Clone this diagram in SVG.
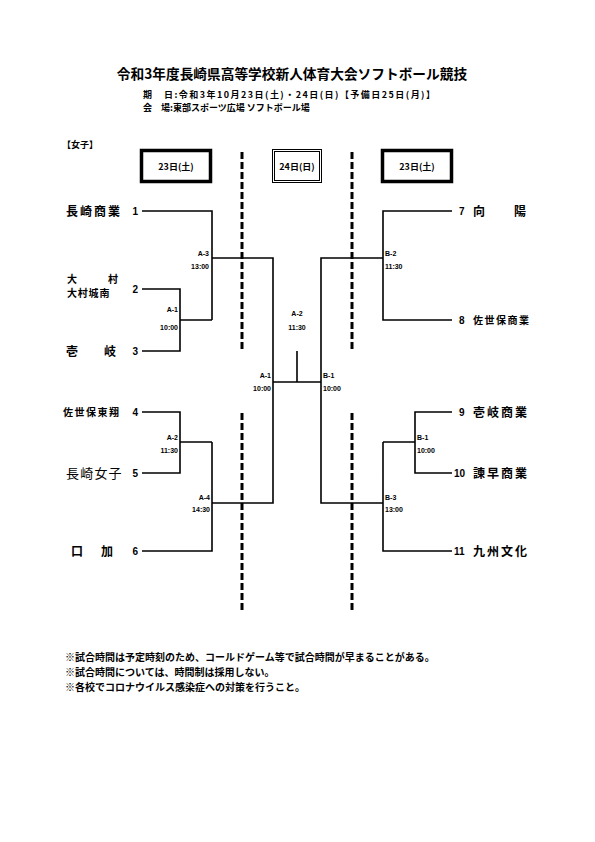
<svg xmlns="http://www.w3.org/2000/svg" width="595" height="842" viewBox="0 0 595 842">
<style>
text{font-family:"Noto Sans CJK JP","Noto Sans",sans-serif;fill:#000}
.t{font-size:13.7px;font-weight:bold}
.h{font-size:9px;font-weight:bold}
.team{font-size:12px;font-weight:bold}
.sm{font-size:10px;font-weight:bold}
.num{font-size:10px;font-weight:bold;font-family:"Liberation Sans",Arial,sans-serif}
.lb{font-size:7px;font-family:"Liberation Sans",Arial,sans-serif;font-weight:bold}
.note{font-size:10px;font-weight:bold}
.ln{stroke:#000;stroke-width:1.6;fill:none}
.dash{stroke:#000;stroke-width:3;stroke-dasharray:7 3;fill:none}
.box{fill:#fff;stroke:#000;stroke-width:3.5}
</style>
<rect width="595" height="842" fill="#fff"/>
<g id="header">
<text class="t" x="292" y="79" text-anchor="middle">令和3年度長崎県高等学校新人体育大会ソフトボール競技</text>
<text class="h" x="143" y="98" textLength="292" lengthAdjust="spacing">期　日:令和3年10月23日(土)・24日(日)【予備日25日(月)】</text>
<text class="h" x="143" y="111" font-size="8.2">会　場:東部スポーツ広場 ソフトボール場</text>
<text class="h" x="62" y="148">【女子】</text>
</g>
<g id="date-left"><rect class="box" x="141.5" y="150.5" width="69" height="31"/><text class="h" x="176" y="170" text-anchor="middle">23日(土)</text></g>
<g id="date-center"><rect x="272.5" y="149.5" width="49" height="33" fill="#fff" stroke="#000" stroke-width="1"/><rect x="274.5" y="151.5" width="45" height="29" fill="none" stroke="#000" stroke-width="1"/><text class="h" x="297" y="170" text-anchor="middle">24日(日)</text></g>
<g id="date-right"><rect class="box" x="382.5" y="150.5" width="69" height="31"/><text class="h" x="417" y="170" text-anchor="middle">23日(土)</text></g>
<g id="dividers">
<line class="dash" x1="242" y1="152" x2="242" y2="352"/>
<line class="dash" x1="352" y1="152" x2="352" y2="352"/>
<line class="dash" x1="242" y1="413" x2="242" y2="613"/>
<line class="dash" x1="352" y1="413" x2="352" y2="613"/>
</g>
<g id="connectors">
<path class="ln" d="M142 211H212V320M142 289H180V351H142M180 320H212M212 258H273V503H212M212 442V551H142M142 412H180V473H142M180 442H212"/>
<path class="ln" d="M452 211H383V320H452M383 258H321V503H383M383 442V551H452M452 412H415V473H452M415 442H383"/>
<path class="ln" d="M273 382H321M297 351V382"/>
</g>
<g id="match-labels">
<text class="lb" x="209" y="256" text-anchor="end">A-3</text><text class="lb" x="209" y="269" text-anchor="end">13:00</text>
<text class="lb" x="178" y="312" text-anchor="end">A-1</text><text class="lb" x="178" y="330" text-anchor="end">10:00</text>
<text class="lb" x="178" y="440" text-anchor="end">A-2</text><text class="lb" x="178" y="453" text-anchor="end">11:30</text>
<text class="lb" x="210" y="500" text-anchor="end">A-4</text><text class="lb" x="210" y="512" text-anchor="end">14:30</text>
<text class="lb" x="297" y="316" text-anchor="middle">A-2</text><text class="lb" x="297" y="330" text-anchor="middle">11:30</text>
<text class="lb" x="271" y="378" text-anchor="end">A-1</text><text class="lb" x="271" y="391" text-anchor="end">10:00</text>
<text class="lb" x="323" y="378">B-1</text><text class="lb" x="323" y="391">10:00</text>
<text class="lb" x="385" y="256">B-2</text><text class="lb" x="385" y="269">11:30</text>
<text class="lb" x="417" y="440">B-1</text><text class="lb" x="417" y="453">10:00</text>
<text class="lb" x="385" y="500">B-3</text><text class="lb" x="385" y="512">13:00</text>
</g>
<g id="team-1"><text class="team" x="66" y="216" letter-spacing="2">長崎商業</text><text class="num" x="138" y="215" text-anchor="end">1</text></g>
<g id="team-2"><text class="sm" x="67" y="283" font-size="9">大</text><text class="sm" x="108" y="283" font-size="9">村</text><text class="sm" x="67" y="297" font-size="9" letter-spacing="0.8">大村城南</text><text class="num" x="138" y="293" text-anchor="end">2</text></g>
<g id="team-3"><text class="team" x="66" y="356">壱</text><text class="team" x="104" y="356">岐</text><text class="num" x="138" y="355" text-anchor="end">3</text></g>
<g id="team-4"><text class="sm" x="63" y="416" letter-spacing="1.5">佐世保東翔</text><text class="num" x="138" y="416" text-anchor="end">4</text></g>
<g id="team-5"><text x="66" y="478" font-size="13" letter-spacing="1.2">長崎女子</text><text class="num" x="138" y="477" text-anchor="end">5</text></g>
<g id="team-6"><text class="team" x="71" y="556">口</text><text class="team" x="101" y="556">加</text><text class="num" x="138" y="555" text-anchor="end">6</text></g>
<g id="team-7"><text class="num" x="459" y="215">7</text><text class="team" x="473" y="216">向</text><text class="team" x="514" y="216">陽</text></g>
<g id="team-8"><text class="num" x="459" y="324">8</text><text class="sm" x="473" y="324" letter-spacing="1.5">佐世保商業</text></g>
<g id="team-9"><text class="num" x="459" y="416">9</text><text class="team" x="473" y="417" letter-spacing="2">壱岐商業</text></g>
<g id="team-10"><text class="num" x="454" y="477">10</text><text class="team" x="473" y="478" letter-spacing="2">諫早商業</text></g>
<g id="team-11"><text class="num" x="454" y="555">11</text><text class="team" x="473" y="556" letter-spacing="2">九州文化</text></g>
<g id="notes">
<text class="note" x="65" y="661">※試合時間は予定時刻のため、コールドゲーム等で試合時間が早まることがある。</text>
<text class="note" x="65" y="676">※試合時間については、時間制は採用しない。</text>
<text class="note" x="65" y="691">※各校でコロナウイルス感染症への対策を行うこと。</text>
</g>
</svg>
